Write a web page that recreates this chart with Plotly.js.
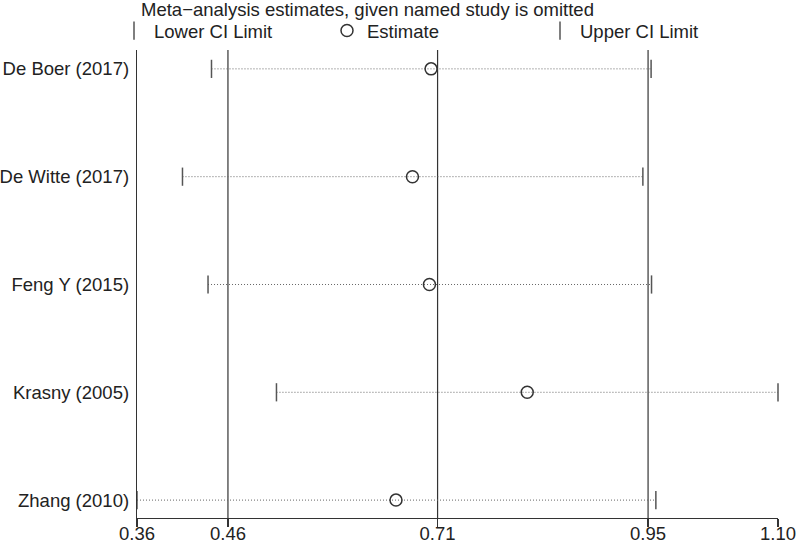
<!DOCTYPE html>
<html>
<head>
<meta charset="utf-8">
<script src="https://cdn.plot.ly/plotly-3.0.1.min.js"></script>
<style>html,body{margin:0;padding:0;background:#fff}#chart{width:800px;height:543px}</style>
</head>
<body>
<div id="chart"></div>
<script>
// ---- data ----
const studies = ["De Boer (2017)", "De Witte (2017)", "Feng Y (2015)", "Krasny (2005)", "Zhang (2010)"];
const lowerCI = [0.446, 0.4125, 0.442, 0.521, 0.36];
const estimate = [0.6995, 0.678, 0.6976, 0.8105, 0.659];
const upperCI = [0.9535, 0.944, 0.954, 1.10, 0.959];
// pooled lower limit, estimate, upper limit (reference lines)
const pooled = [0.465, 0.707, 0.95];
const xTickVals = [0.36, 0.465, 0.707, 0.95, 1.10];
const xTickText = ["0.36", "0.46", "0.71", "0.95", "1.10"];

const yPos = studies.map((s, i) => studies.length - 1 - i);

const FONT = "Liberation Sans, Arial, Helvetica, sans-serif";
const FS = 18.5;

// dotted CI segments
const segX = [], segY = [];
studies.forEach((s, i) => {
  segX.push(lowerCI[i], upperCI[i], null);
  segY.push(yPos[i], yPos[i], null);
});

const traces = [
  {
    x: segX, y: segY, mode: "lines", type: "scatter",
    line: {color: "#666", width: 1, dash: "1px,2px"},
    showlegend: false, hoverinfo: "skip", cliponaxis: false
  },
  {
    x: lowerCI, y: yPos, mode: "markers", type: "scatter", name: "Lower CI Limit",
    marker: {symbol: "line-ns", size: 13, line: {color: "#555", width: 1.5}},
    cliponaxis: false
  },
  {
    x: estimate, y: yPos, mode: "markers", type: "scatter", name: "Estimate",
    marker: {symbol: "circle-open", size: 12, color: "#333", line: {color: "#333", width: 1.5}},
    cliponaxis: false
  },
  {
    x: upperCI, y: yPos, mode: "markers", type: "scatter", name: "Upper CI Limit",
    marker: {symbol: "line-ns", size: 13, line: {color: "#555", width: 1.5}},
    cliponaxis: false
  }
];

const shapes = pooled.map(v => ({
  type: "line", xref: "x", yref: "paper", x0: v, x1: v, y0: 0, y1: 1,
  line: {color: "#333", width: 1.2}, layer: "below"
}));

const layout = {
  width: 800, height: 543,
  margin: {l: 137, r: 22, t: 47, b: 25},
  paper_bgcolor: "#fff", plot_bgcolor: "#fff",
  font: {family: FONT, size: FS, color: "#222"},
  title: {
    text: "Meta\u2212analysis estimates, given named study is omitted",
    x: 141 / 800, xref: "container", xanchor: "left",
    y: 1 - 10 / 543, yref: "container", yanchor: "middle",
    font: {family: FONT, size: FS, color: "#222"},
    automargin: false
  },
  showlegend: true,
  legend: {
    orientation: "h", x: 114 / 800, xanchor: "left", y: 1 - 31 / 543, yanchor: "middle",
    xref: "container", yref: "container",
    entrywidth: 168, entrywidthmode: "pixels", itemwidth: 30,
    font: {family: FONT, size: FS, color: "#222"},
    bgcolor: "rgba(0,0,0,0)", borderwidth: 0, tracegroupgap: 0
  },
  xaxis: {
    range: [0.36, 1.10], tickvals: xTickVals, ticktext: xTickText,
    ticks: "outside", ticklen: 8, tickwidth: 1.2, tickcolor: "#333",
    ticklabelstandoff: -9,
    showline: true, linecolor: "#333", linewidth: 1.2,
    showgrid: false, zeroline: false, fixedrange: true, automargin: false,
    tickfont: {family: FONT, size: FS, color: "#222"}
  },
  yaxis: {
    range: [-0.166, 4.175], tickvals: yPos, ticktext: studies,
    ticks: "", showline: true, linecolor: "#333", linewidth: 1.2,
    showgrid: false, zeroline: false, fixedrange: true, automargin: false,
    ticklabelstandoff: 3,
    tickfont: {family: FONT, size: FS, color: "#222"}
  },
  shapes: shapes
};

Plotly.newPlot("chart", traces, layout, {displayModeBar: false, staticPlot: true});
</script>
</body>
</html>
